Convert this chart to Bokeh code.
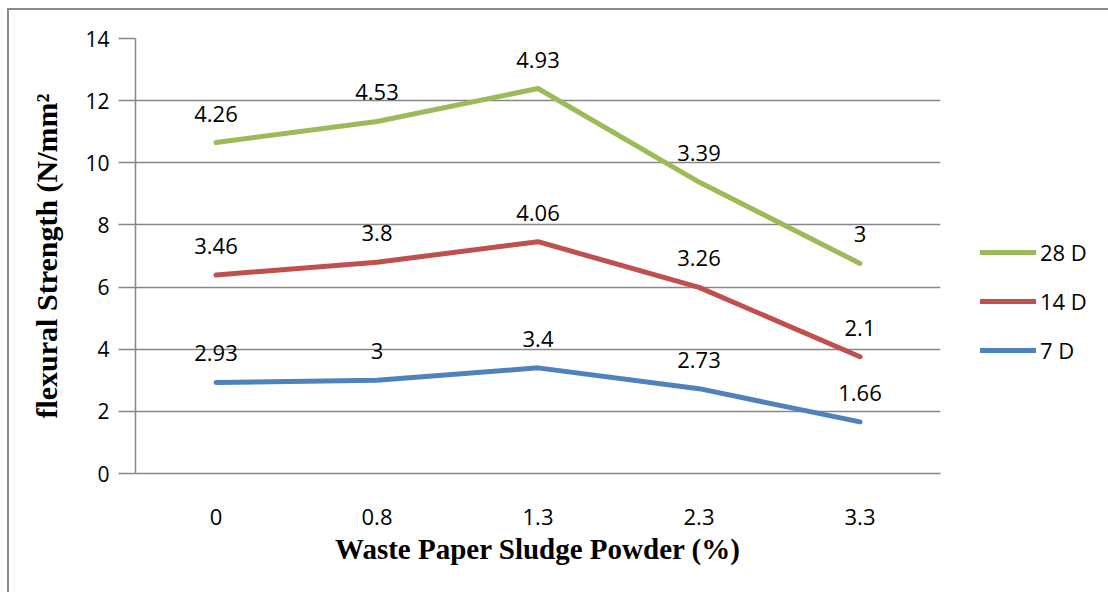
import numpy as np
from bokeh.plotting import figure
from bokeh.models import (FactorRange, Range1d, FixedTicker, Legend, LegendItem,
                          ColumnDataSource, InlineStyleSheet)
from bokeh.core.properties import value
from bokeh.embed import file_html
from bokeh.resources import INLINE

categories = ["0", "0.8", "1.3", "2.3", "3.3"]
d7 = [2.93, 3, 3.4, 2.73, 1.66]
d14 = [3.46, 3.8, 4.06, 3.26, 2.1]
d28 = [4.26, 4.53, 4.93, 3.39, 3]
series_names = ["7 D", "14 D", "28 D"]
y_ticks = [0, 2, 4, 6, 8, 10, 12, 14]

colors = {"7 D": "#4F81BD", "14 D": "#C0504D", "28 D": "#9BBB59"}

# stacked line chart (values are cumulative)
vals = {"7 D": d7, "14 D": d14, "28 D": d28}
cum = {}
running = np.zeros(len(categories))
for name in series_names:
    running = running + np.array(vals[name])
    cum[name] = running.copy()

SANS = "Open Sans"
SERIF = "Liberation Serif"

p = figure(x_range=FactorRange(factors=categories, range_padding=0),
           y_range=Range1d(0, 14),
           frame_width=805, frame_height=435,
           min_border_left=135, min_border_right=168,
           min_border_top=38, min_border_bottom=119,
           output_backend="svg", toolbar_location=None)
p.outline_line_color = None
p.background_fill_color = "white"
p.border_fill_color = "white"

renderers = {}
for name in series_names:
    src = ColumnDataSource(dict(x=categories, y=cum[name],
                                lab=[str(v) for v in vals[name]]))
    r = p.line("x", "y", source=src, line_color=colors[name], line_width=5,
               line_join="round", line_cap="round")
    renderers[name] = r
    p.text("x", "y", text="lab", source=src, text_align="center",
           text_baseline="middle", y_offset=-29, text_font=value(SANS),
           text_font_size="22px", text_color="black")

# axes
p.yaxis.ticker = FixedTicker(ticks=y_ticks)
p.yaxis.axis_line_color = "#868686"
p.yaxis.axis_line_width = 1.5
p.yaxis.major_tick_line_color = "#868686"
p.yaxis.major_tick_line_width = 1.5
p.yaxis.major_tick_out = 17
p.yaxis.major_tick_in = 0
p.yaxis.minor_tick_line_color = None
p.yaxis.major_label_text_font = SANS
p.yaxis.major_label_text_font_size = "21px"
p.yaxis.major_label_text_color = "black"
p.yaxis.major_label_standoff = 9
p.yaxis.axis_label = "flexural Strength (N/mm\u00b2"
p.yaxis.axis_label_text_font = SERIF
p.yaxis.axis_label_text_font_style = "bold"
p.yaxis.axis_label_text_font_size = "30px"
p.yaxis.axis_label_text_color = "black"
p.yaxis.axis_label_standoff = 19

p.xaxis.axis_line_color = "#868686"
p.xaxis.axis_line_width = 1.5
p.xaxis.major_tick_line_color = None
p.xaxis.minor_tick_line_color = None
p.xaxis.major_label_text_font = SANS
p.xaxis.major_label_text_font_size = "22px"
p.xaxis.major_label_text_color = "black"
p.xaxis.major_label_standoff = 29
p.xaxis.axis_label = "Waste Paper Sludge Powder (%)"
p.xaxis.axis_label_text_font = SERIF
p.xaxis.axis_label_text_font_style = "bold"
p.xaxis.axis_label_text_font_size = "29px"
p.xaxis.axis_label_text_color = "black"
p.xaxis.axis_label_standoff = 5

p.xgrid.grid_line_color = None
p.ygrid.grid_line_color = "#868686"
p.ygrid.grid_line_width = 1.5
p.ygrid.ticker = FixedTicker(ticks=y_ticks)

legend = Legend(items=[LegendItem(label=n, renderers=[renderers[n]])
                       for n in ["28 D", "14 D", "7 D"]],
                location=(40, 108), orientation="vertical",
                glyph_width=56, glyph_height=20, spacing=19,
                label_standoff=4, padding=0, margin=0,
                label_text_font=SANS, label_text_font_size="22px",
                label_text_color="black",
                border_line_color=None, background_fill_alpha=0)
p.add_layout(legend, "right")

p.stylesheets = [InlineStyleSheet(css="""
:host { position: relative; }
:host::after {
  content: ""; position: absolute; left: 7px; top: 8px;
  width: 1200px; height: 800px; pointer-events: none;
  border-left: 2px solid #8a8a8a; border-top: 2px solid #8a8a8a;
  box-sizing: border-box; z-index: 10;
}
""")]

open("out.html", "w").write(file_html(p, INLINE))
